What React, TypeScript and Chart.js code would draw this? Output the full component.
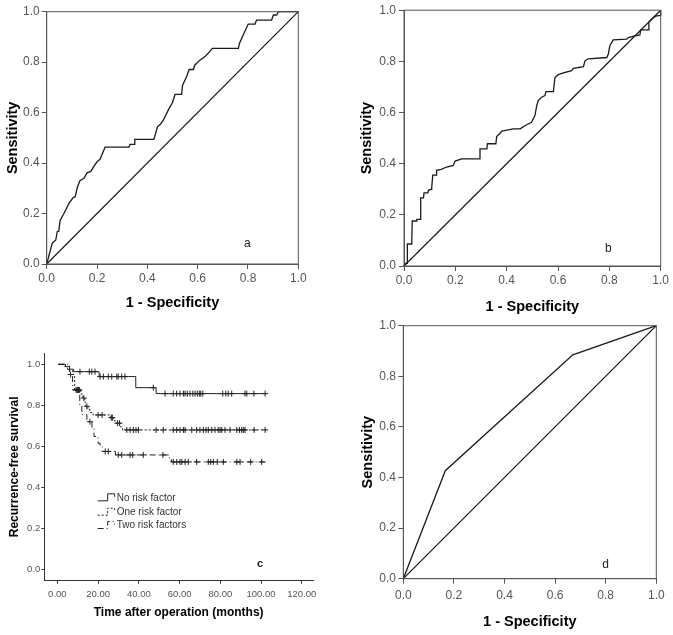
import React, { useEffect, useRef } from "react";
import { Chart, registerables } from "chart.js";

Chart.register(...registerables);

const FONT = "'Liberation Sans', Arial, Helvetica, sans-serif";

// ---------------- data ----------------
const rocTicks = [0, 0.2, 0.4, 0.6, 0.8, 1.0];
const rocTickLabels = ["0.0", "0.2", "0.4", "0.6", "0.8", "1.0"];
const diagX = [0, 1];
const diagY = [0, 1];

const rocA_fpr = [0, 0.022, 0.036, 0.042, 0.048, 0.053, 0.069, 0.089, 0.106, 0.113, 0.122, 0.132, 0.148, 0.161, 0.175, 0.188, 0.201, 0.212, 0.232, 0.327, 0.331, 0.347, 0.35, 0.426, 0.433, 0.44, 0.453, 0.464, 0.483, 0.5, 0.51, 0.536, 0.54, 0.556, 0.566, 0.583, 0.589, 0.609, 0.629, 0.642, 0.658, 0.762, 0.766, 0.781, 0.801, 0.828, 0.834, 0.894, 0.901, 0.914, 0.921, 1.0];
const rocA_tpr = [0, 0.082, 0.095, 0.128, 0.13, 0.172, 0.201, 0.241, 0.264, 0.266, 0.304, 0.33, 0.34, 0.362, 0.366, 0.388, 0.406, 0.415, 0.463, 0.463, 0.474, 0.474, 0.494, 0.494, 0.518, 0.544, 0.555, 0.571, 0.61, 0.64, 0.672, 0.672, 0.709, 0.742, 0.771, 0.771, 0.789, 0.808, 0.822, 0.835, 0.855, 0.855, 0.874, 0.908, 0.951, 0.951, 0.967, 0.967, 0.987, 0.987, 1.0, 1.0];

const rocB_fpr = [0, 0.006, 0.013, 0.013, 0.03, 0.032, 0.048, 0.05, 0.063, 0.065, 0.076, 0.078, 0.093, 0.095, 0.106, 0.108, 0.112, 0.125, 0.127, 0.145, 0.166, 0.192, 0.199, 0.225, 0.293, 0.296, 0.323, 0.325, 0.358, 0.361, 0.374, 0.381, 0.426, 0.452, 0.478, 0.497, 0.51, 0.517, 0.523, 0.536, 0.549, 0.553, 0.582, 0.588, 0.601, 0.621, 0.653, 0.66, 0.699, 0.705, 0.718, 0.79, 0.796, 0.802, 0.815, 0.868, 0.874, 0.9, 0.919, 0.922, 0.952, 0.954, 0.971, 0.984, 1, 1];
const rocB_tpr = [0, 0.01, 0.01, 0.086, 0.086, 0.176, 0.176, 0.182, 0.182, 0.266, 0.266, 0.286, 0.286, 0.296, 0.3, 0.307, 0.355, 0.355, 0.374, 0.378, 0.387, 0.393, 0.41, 0.419, 0.419, 0.458, 0.458, 0.478, 0.478, 0.506, 0.519, 0.527, 0.536, 0.536, 0.552, 0.562, 0.588, 0.627, 0.647, 0.66, 0.666, 0.682, 0.682, 0.737, 0.748, 0.755, 0.764, 0.773, 0.779, 0.802, 0.81, 0.815, 0.829, 0.861, 0.884, 0.887, 0.893, 0.9, 0.903, 0.923, 0.923, 0.954, 0.971, 0.978, 0.98, 1];

const rocD_fpr = [0, 0.166, 0.67, 1];
const rocD_tpr = [0, 0.427, 0.885, 1];

const kmXTicks = [0, 20, 40, 60, 80, 100, 120];
const kmXTickLabels = ["0.00", "20.00", "40.00", "60.00", "80.00", "100.00", "120.00"];
const kmYTicks = [0, 0.2, 0.4, 0.6, 0.8, 1.0];
const kmYTickLabels = ["0.0", "0.2", "0.4", "0.6", "0.8", "1.0"];
const kmGroups = ["No risk factor", "One risk factor", "Two risk factors"];

const noRiskTimes = [0.5, 4, 6, 8, 20.5, 38.5, 48.5, 102.5];
const noRiskSurv = [1, 0.988, 0.976, 0.964, 0.94, 0.886, 0.857, 0.857];
const noRiskCensored = [11.1, 15.7, 16.9, 18.5, 21, 22.6, 25, 26.7, 29.2, 29.9, 31.6, 33.2, 47.1, 52.9, 56.9, 58.6, 60.2, 61.9, 62.7, 63.8, 65.1, 66.5, 67.6, 68.7, 69.7, 70.4, 71.4, 81.2, 82.7, 83.9, 85.6, 92.1, 93, 96.5, 102];

const oneRiskTimes = [0.5, 3, 6, 7.5, 8.5, 11.5, 12.5, 13.5, 14, 15, 16, 17.5, 26, 27.5, 28.5, 31, 32, 102.5];
const oneRiskSurv = [1, 0.99, 0.97, 0.95, 0.875, 0.855, 0.835, 0.815, 0.795, 0.78, 0.765, 0.753, 0.74, 0.725, 0.713, 0.695, 0.68, 0.68];
const oneRiskCensored = [9.2, 9.6, 10, 10.4, 10.8, 13, 14.5, 20, 22, 26.5, 27, 29.5, 30.5, 34.1, 35.7, 37.3, 38.6, 39.8, 48.5, 52, 56.9, 58.6, 60.2, 61.9, 62.7, 66, 68.4, 70, 71.7, 73, 74.1, 75.8, 77.4, 79, 79.9, 80.7, 82.3, 84.8, 88.1, 89.4, 90.5, 91.3, 92.1, 96.6, 102];

const twoRiskTimes = [0.5, 5, 6, 7.5, 11, 12, 14.5, 17, 18, 20, 21, 22, 28.5, 55, 56, 102.5];
const twoRiskSurv = [1, 0.975, 0.95, 0.875, 0.8, 0.755, 0.72, 0.69, 0.648, 0.615, 0.6, 0.575, 0.558, 0.54, 0.524, 0.524];
const twoRiskCensored = [6.5, 16, 23.5, 25, 29.9, 31.6, 35.7, 37, 42.2, 51.8, 56.9, 58.6, 60.2, 61.1, 62.7, 64.3, 68.4, 74.1, 75.3, 76.6, 78.5, 81.5, 88.1, 89.7, 94.9, 100.3];

// ---------------- helpers ----------------
const pts = (xs: number[], ys: number[]) => xs.map((x, i) => ({ x, y: ys[i] }));

function survAt(times: number[], surv: number[], t: number) {
  let v = surv[0];
  for (let i = 0; i < times.length; i++) if (times[i] <= t) v = surv[i];
  return v;
}

const annotPlugin = {
  id: "annot",
  afterDatasetsDraw(chart: any, _a: any, opts: any) {
    const { ctx, chartArea, scales } = chart;
    ctx.save();
    if (opts.frame) {
      ctx.strokeStyle = opts.frameColor || "#555";
      ctx.lineWidth = 1;
      ctx.strokeRect(chartArea.left, chartArea.top, chartArea.right - chartArea.left, chartArea.bottom - chartArea.top);
    }
    if (opts.letter) {
      ctx.font = opts.letter.font;
      ctx.fillStyle = "#222";
      ctx.textAlign = "center";
      ctx.textBaseline = "middle";
      ctx.fillText(opts.letter.text, scales.x.getPixelForValue(opts.letter.x), scales.y.getPixelForValue(opts.letter.y));
    }
    if (opts.legend) {
      const L = opts.legend;
      const x0 = scales.x.getPixelForValue(L.x);
      L.items.forEach((it: any, i: number) => {
        const y = scales.y.getPixelForValue(L.rows[i]);
        ctx.strokeStyle = "#222";
        ctx.lineWidth = 1;
        ctx.setLineDash(it.dash);
        ctx.beginPath();
        ctx.moveTo(x0, y + 3);
        ctx.lineTo(x0 + 10, y + 3);
        ctx.lineTo(x0 + 10, y - 4);
        ctx.lineTo(x0 + 17, y - 4);
        ctx.lineTo(x0 + 17, y - 1);
        ctx.stroke();
        ctx.setLineDash([]);
        ctx.font = `10px ${FONT}`;
        ctx.fillStyle = "#333";
        ctx.textAlign = "left";
        ctx.textBaseline = "middle";
        ctx.fillText(it.label, x0 + 19, y);
      });
    }
    ctx.restore();
  },
};

type Spec = {
  canvas: { left: number; top: number; width: number; height: number };
  plot: { left: number; top: number; right: number; bottom: number };
  xMin: number; xMax: number; yMin: number; yMax: number;
  xTicks: number[]; xLabels: string[]; yTicks: number[]; yLabels: string[];
  xTitle: string; yTitle: string;
  tickFont: number; titleFont: number;
  tickLen: number; xTickPad: number; yTickPad: number;
  xTitlePad: number; yTitlePad: number;
  axisColor: string;
  datasets: any[];
  annot: any;
};

function buildConfig(s: Spec): any {
  const xH = s.canvas.top + s.canvas.height - s.plot.bottom;
  const yW = s.plot.left - s.canvas.left;
  const grid = { display: true, drawOnChartArea: false, drawTicks: true, tickLength: s.tickLen, color: s.axisColor, lineWidth: 1 };
  const border = { display: true, color: s.axisColor, width: 1 };
  return {
    type: "scatter",
    data: { datasets: s.datasets },
    plugins: [annotPlugin],
    options: {
      responsive: false,
      animation: false,
      events: [],
      layout: {
        padding: {
          left: 0,
          top: s.plot.top - s.canvas.top,
          right: s.canvas.left + s.canvas.width - s.plot.right,
          bottom: 0,
        },
      },
      plugins: { legend: { display: false }, tooltip: { enabled: false }, annot: s.annot },
      scales: {
        x: {
          type: "linear",
          min: s.xMin,
          max: s.xMax,
          afterBuildTicks: (sc: any) => { sc.ticks = s.xTicks.map((v) => ({ value: v })); },
          afterFit: (sc: any) => { sc.height = xH; },
          ticks: {
            autoSkip: false, maxRotation: 0, minRotation: 0,
            padding: s.xTickPad,
            color: "#555",
            font: { family: FONT, size: s.tickFont },
            callback: (_v: any, i: number) => s.xLabels[i],
          },
          grid, border,
          title: { display: true, text: s.xTitle, color: "#000", font: { family: FONT, size: s.titleFont, weight: "bold" }, padding: { top: 0, bottom: s.xTitlePad } },
        },
        y: {
          type: "linear",
          min: s.yMin,
          max: s.yMax,
          afterBuildTicks: (sc: any) => { sc.ticks = s.yTicks.map((v) => ({ value: v })); },
          afterFit: (sc: any) => { sc.width = yW; },
          ticks: {
            autoSkip: false,
            padding: s.yTickPad,
            color: "#555",
            font: { family: FONT, size: s.tickFont },
            callback: (_v: any, i: number) => s.yLabels[i],
          },
          grid, border,
          title: { display: true, text: s.yTitle, color: "#000", font: { family: FONT, size: s.titleFont, weight: "bold" }, padding: { top: s.yTitlePad, bottom: 0 } },
        },
      },
    },
  };
}

const curveStyle = { showLine: true, borderColor: "#1a1a1a", borderWidth: 1.3, pointRadius: 0, fill: false, clip: false };
const diagStyle = { showLine: true, borderColor: "#1a1a1a", borderWidth: 1.2, pointRadius: 0, fill: false, clip: false };

function rocSpec(canvas: any, plot: any, fpr: number[], tpr: number[], letter: any, xTitlePad: number, yTitlePad: number, xTickPad: number, yTickPad: number): Spec {
  return {
    canvas, plot,
    xMin: 0, xMax: 1, yMin: 0, yMax: 1,
    xTicks: rocTicks, xLabels: rocTickLabels, yTicks: rocTicks, yLabels: rocTickLabels,
    xTitle: "1 - Specificity", yTitle: "Sensitivity",
    tickFont: 12, titleFont: 14.5, tickLen: 5, xTickPad, yTickPad,
    xTitlePad, yTitlePad,
    axisColor: "#555",
    datasets: [
      { ...curveStyle, data: pts(fpr, tpr) },
      { ...diagStyle, data: pts(diagX, diagY) },
    ],
    annot: { frame: true, frameColor: "#555", letter: { ...letter, font: `12px ${FONT}` } },
  };
}

const kmLine = (times: number[], surv: number[], dash: number[]) => ({
  showLine: true, stepped: "before", borderColor: "#222", borderWidth: 1, borderDash: dash, pointRadius: 0, fill: false, data: pts(times, surv),
});
const kmCensor = (times: number[], surv: number[], cens: number[]) => ({
  showLine: false, pointStyle: "cross", pointRadius: 3, borderColor: "#222", borderWidth: 1,
  data: cens.map((t) => ({ x: t, y: survAt(times, surv, t) })),
});

const dashOne = [2, 2];
const dashTwo = [6, 3, 1, 3];

const specA = rocSpec({ left: 0, top: 0, width: 336, height: 320 }, { left: 46.7, top: 11.7, right: 298.3, bottom: 264 }, rocA_fpr, rocA_tpr, { text: "a", x: 0.797, y: 0.079 }, 8.3, 4.3, 2, 2);
const specB = rocSpec({ left: 336, top: 0, width: 337, height: 320 }, { left: 404, top: 9.3, right: 660.7, bottom: 266 }, rocB_fpr, rocB_tpr, { text: "b", x: 0.796, y: 0.069 }, 4.3, 22, 2, 3);
const specD = rocSpec({ left: 336, top: 310, width: 337, height: 325 }, { left: 403.3, top: 325.7, right: 656.3, bottom: 578.7 }, rocD_fpr, rocD_tpr, { text: "d", x: 0.8, y: 0.054 }, 4.6, 23.3, 5, 2.3);

const specC: Spec = {
  canvas: { left: 0, top: 310, width: 336, height: 325 },
  plot: { left: 44.3, top: 353, right: 313, bottom: 580.7 },
  xMin: -6.4, xMax: 125.5, yMin: -0.055, yMax: 1.055,
  xTicks: kmXTicks, xLabels: kmXTickLabels, yTicks: kmYTicks, yLabels: kmYTickLabels,
  xTitle: "Time after operation (months)", yTitle: "Recurrence-free survival",
  tickFont: 9.5, titleFont: 12, tickLen: 3, xTickPad: 4.6, yTickPad: 1,
  xTitlePad: 14.8, yTitlePad: 7.8,
  axisColor: "#333",
  datasets: [
    kmLine(noRiskTimes, noRiskSurv, []),
    kmLine(oneRiskTimes, oneRiskSurv, dashOne),
    kmLine(twoRiskTimes, twoRiskSurv, dashTwo),
    kmCensor(noRiskTimes, noRiskSurv, noRiskCensored),
    kmCensor(oneRiskTimes, oneRiskSurv, oneRiskCensored),
    kmCensor(twoRiskTimes, twoRiskSurv, twoRiskCensored),
  ],
  annot: {
    frame: false,
    letter: { text: "c", x: 99.5, y: 0.026, font: `bold 11px ${FONT}` },
    legend: {
      x: 19.8,
      rows: [0.349, 0.279, 0.214],
      items: [
        { label: kmGroups[0], dash: [] },
        { label: kmGroups[1], dash: dashOne },
        { label: kmGroups[2], dash: dashTwo },
      ],
    },
  },
};

function Panel({ spec }: { spec: Spec }) {
  const ref = useRef<HTMLCanvasElement>(null);
  useEffect(() => {
    const chart = new Chart(ref.current as HTMLCanvasElement, buildConfig(spec));
    return () => chart.destroy();
  }, [spec]);
  const c = spec.canvas;
  return (
    <canvas
      ref={ref}
      width={c.width}
      height={c.height}
      style={{ position: "absolute", left: c.left, top: c.top, width: c.width, height: c.height }}
    />
  );
}

export default function App() {
  return (
    <div style={{ position: "absolute", left: 0, top: 0, width: 673, height: 635, background: "#fff", overflow: "hidden" }}>
      <Panel spec={specA} />
      <Panel spec={specB} />
      <Panel spec={specC} />
      <Panel spec={specD} />
    </div>
  );
}
